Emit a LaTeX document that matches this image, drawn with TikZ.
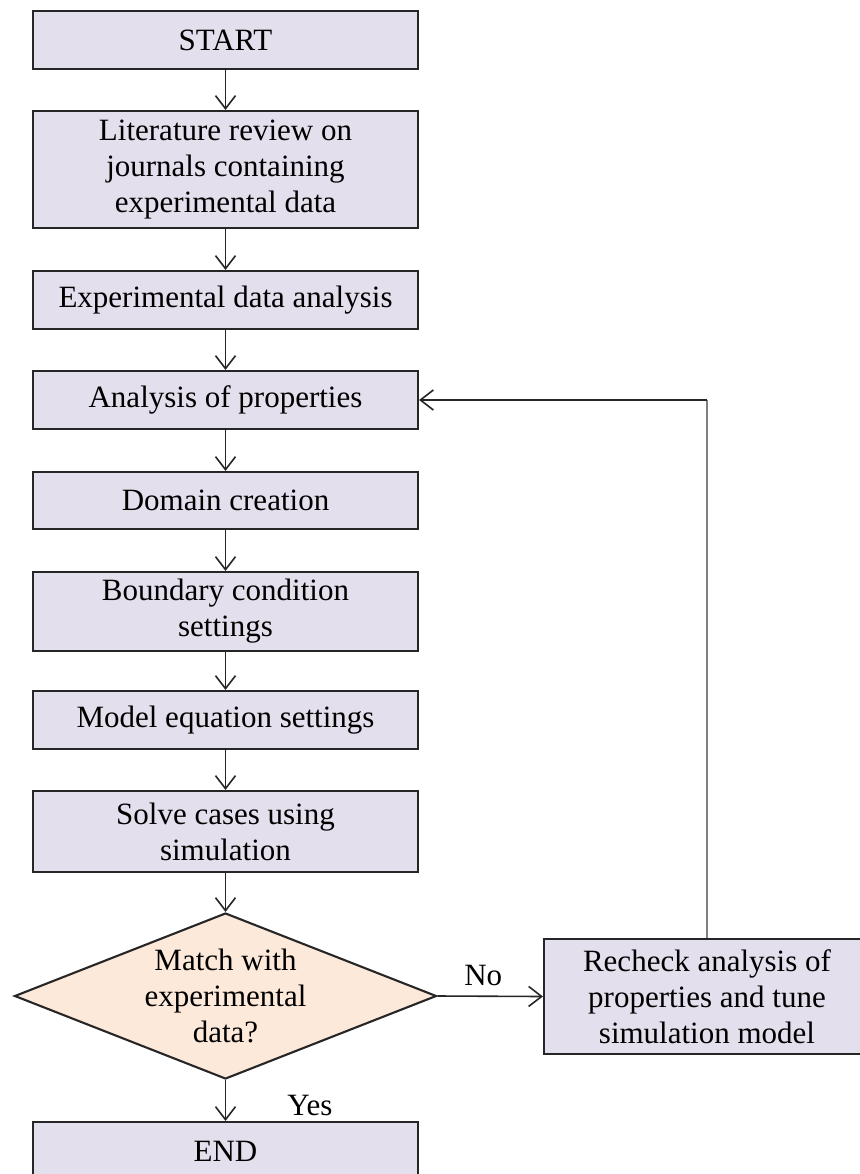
\documentclass[tikz,border=0pt]{standalone}
\usepackage{fontspec}
\setmainfont{Liberation Serif}
\usetikzlibrary{shapes.geometric,arrows.meta}
\definecolor{boxfill}{HTML}{E4DFEC}
\definecolor{decfill}{HTML}{FDE9D9}
\definecolor{edge}{HTML}{262626}
\definecolor{fb}{HTML}{808080}
\begin{document}
\begin{tikzpicture}[x=1pt,y=-1pt,
  stepbox/.style={draw=edge, line width=2.1pt, fill=boxfill, minimum width=385pt, inner sep=0pt, align=center, font=\fontsize{31}{36}\selectfont},
  decbox/.style={draw=edge, line width=2.1pt, fill=decfill, diamond, minimum width=422pt, minimum height=166pt, inner sep=0pt},
  conn/.style={draw=edge, line width=1.6pt, -{Straight Barb[length=13pt,width=20pt,line width=1.6pt]}},
  lbl/.style={font=\fontsize{31}{36}\selectfont, inner sep=0pt}
]
\useasboundingbox (0,0) rectangle (859,1174);
\node[stepbox, minimum height=58pt] (start) at (225.5,40) {START};
\node[stepbox, minimum height=117pt] (lit) at (225.5,169.5) {Literature review on\\journals containing\\experimental data};
\node[stepbox, minimum height=58pt] (exp) at (225.5,300) {Experimental data analysis};
\node[stepbox, minimum height=58pt] (anal) at (225.5,400) {Analysis of properties};
\node[stepbox, minimum height=57pt] (dom) at (225.5,500.5) {Domain creation};
\node[stepbox, minimum height=79pt] (bc) at (225.5,611.5) {Boundary condition\\settings};
\node[stepbox, minimum height=58pt] (mod) at (225.5,720) {Model equation settings};
\node[stepbox, minimum height=81pt] (solve) at (225.5,831.5) {Solve cases using\\simulation};
\node[decbox] (dec) at (225.5,996) {};
\node[lbl, align=center] (dectext) at (225.5,996) {Match with\\experimental\\data?};
\node[stepbox, minimum height=58pt] (end) at (225.5,1151) {END};
\node[stepbox, minimum width=326pt, minimum height=115pt] (rc) at (707,996.5) {Recheck analysis of\\properties and tune\\simulation model};
\coordinate (corner) at (rc.north |- anal.east);

\draw[conn] (start) -- (lit);
\draw[conn] (lit) -- (exp);
\draw[conn] (exp) -- (anal);
\draw[conn] (anal) -- (dom);
\draw[conn] (dom) -- (bc);
\draw[conn] (bc) -- (mod);
\draw[conn] (mod) -- (solve);
\draw[conn] (solve) -- (dec.north);
\draw[conn] (dec.south) -- node[lbl, anchor=west, xshift=61pt, yshift=-5pt] {Yes} (end);
\draw[conn] (dec.east) -- node[lbl, above=10pt, xshift=-7pt] {No} (rc.west);
\draw[draw=fb, line width=2.2pt] (rc.north) -- (corner);
\draw[conn] (corner) -- (anal.east);
\end{tikzpicture}
\end{document}
